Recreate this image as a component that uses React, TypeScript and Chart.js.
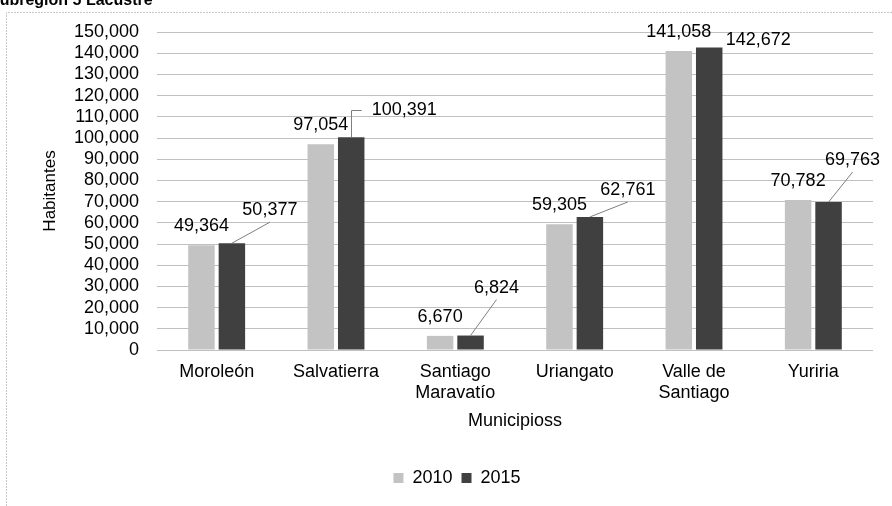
import React, { useEffect, useRef } from 'react';
import { Chart, registerables } from 'chart.js';

Chart.register(...registerables);

const chartTitle = 'Subregión 5 Lacustre';
const categories: (string | string[])[] = [
  'Moroleón',
  'Salvatierra',
  ['Santiago', 'Maravatío'],
  'Uriangato',
  ['Valle de', 'Santiago'],
  'Yuriria',
];
const seriesNames = ['2010', '2015'];
const values2010 = [49364, 97054, 6670, 59305, 141058, 70782];
const values2015 = [50377, 100391, 6824, 62761, 142672, 69763];
const yMin = 0;
const yMax = 150000;
const yStep = 10000;
const yTitle = 'Habitantes';
const xTitle = 'Municipioss';

// label placement for the 2015 series (dx, dy from bar top, leader style)
const labelPlacement2015: [number, number, string][] = [
  [38, -33, 'line'],
  [53, -27, 'elbow'],
  [26, -48, 'line'],
  [38, -27, 'line'],
  [49, -8, 'none'],
  [24, -42, 'line'],
];

const FONT = '"Liberation Sans", Arial, sans-serif';
const fmt = (v: number) => v.toLocaleString('en-US');

const decorPlugin = {
  id: 'decor',
  beforeDraw(chart: any) {
    const ctx = chart.ctx;
    ctx.save();
    ctx.fillStyle = '#ffffff';
    ctx.fillRect(0, 0, chart.width, chart.height);
    ctx.strokeStyle = '#c8c8c8';
    ctx.lineWidth = 1;
    ctx.setLineDash([2, 1]);
    ctx.beginPath();
    ctx.moveTo(6.5, chart.height);
    ctx.lineTo(6.5, 12.5);
    ctx.lineTo(chart.width, 12.5);
    ctx.stroke();
    ctx.setLineDash([]);
    ctx.fillStyle = '#000000';
    ctx.font = `bold 16px ${FONT}`;
    ctx.textAlign = 'left';
    ctx.textBaseline = 'alphabetic';
    ctx.fillText(chartTitle, -11, 5);
    ctx.restore();
  },
};

const labelsPlugin = {
  id: 'valueLabels',
  afterDatasetsDraw(chart: any) {
    const ctx = chart.ctx;
    ctx.save();
    ctx.font = `18px ${FONT}`;
    ctx.textAlign = 'center';
    ctx.textBaseline = 'middle';
    ctx.fillStyle = '#000000';
    const m0 = chart.getDatasetMeta(0);
    const m1 = chart.getDatasetMeta(1);
    m0.data.forEach((bar: any, i: number) => {
      ctx.fillText(fmt(values2010[i]), bar.x, bar.y - 19);
    });
    m1.data.forEach((bar: any, i: number) => {
      const [dx, dy, kind] = labelPlacement2015[i];
      const cx = bar.x + dx;
      const cy = bar.y + dy;
      const text = fmt(values2015[i]);
      const w = ctx.measureText(text).width;
      ctx.strokeStyle = '#7f7f7f';
      ctx.lineWidth = 1;
      if (kind === 'line') {
        ctx.beginPath();
        ctx.moveTo(bar.x, bar.y);
        ctx.lineTo(cx, cy + 12);
        ctx.stroke();
      } else if (kind === 'elbow') {
        ctx.beginPath();
        ctx.moveTo(Math.round(bar.x) + 0.5, bar.y);
        ctx.lineTo(Math.round(bar.x) + 0.5, Math.round(cy) + 0.5);
        ctx.lineTo(cx - w / 2 - 10, Math.round(cy) + 0.5);
        ctx.stroke();
      }
      ctx.fillText(text, cx, cy);
    });
    ctx.restore();
  },
};

export default function App() {
  const canvasRef = useRef<HTMLCanvasElement | null>(null);

  useEffect(() => {
    if (!canvasRef.current) return;
    const chart = new Chart(canvasRef.current, {
      type: 'bar',
      data: {
        labels: categories as any,
        datasets: [
          {
            label: seriesNames[0],
            data: values2010,
            backgroundColor: '#c3c3c3',
            borderWidth: 0,
            categoryPercentage: 0.51,
            barPercentage: 0.87,
          },
          {
            label: seriesNames[1],
            data: values2015,
            backgroundColor: '#404040',
            borderWidth: 0,
            categoryPercentage: 0.51,
            barPercentage: 0.87,
          },
        ],
      },
      options: {
        responsive: false,
        animation: false,
        devicePixelRatio: 1,
        layout: { padding: { left: 41, right: 19, top: 32, bottom: 9 } },
        plugins: {
          legend: {
            position: 'bottom',
            labels: {
              boxWidth: 10,
              boxHeight: 10,
              padding: 9,
              color: '#000000',
              font: { family: FONT, size: 18 },
            },
          },
          tooltip: { enabled: false },
          title: { display: false },
        },
        scales: {
          x: {
            grid: { display: false, drawTicks: false },
            border: { display: false },
            ticks: {
              color: '#000000',
              font: { family: FONT, size: 18 },
              padding: 11,
              maxRotation: 0,
              autoSkip: false,
            },
            title: {
              display: true,
              text: xTitle,
              color: '#000000',
              font: { family: FONT, size: 18 },
              padding: { top: 0, bottom: 28 },
            },
            afterFit: (scale: any) => {
              scale.height = 110;
            },
          },
          y: {
            min: yMin,
            max: yMax,
            grid: {
              color: '#c0c0c0',
              drawTicks: false,
              lineWidth: 1,
            },
            border: { display: false },
            ticks: {
              stepSize: yStep,
              autoSkip: false,
              color: '#000000',
              font: { family: FONT, size: 18 },
              padding: 18,
              callback: (v: any) => fmt(Number(v)),
            },
            title: {
              display: true,
              text: yTitle,
              color: '#000000',
              font: { family: FONT, size: 17 },
              padding: { top: -1, bottom: 0 },
            },
            afterFit: (scale: any) => {
              scale.width = 116;
            },
          },
        },
      } as any,
      plugins: [decorPlugin, labelsPlugin],
    });
    return () => chart.destroy();
  }, []);

  return (
    <div style={{ position: 'absolute', left: 0, top: 0, width: 892, height: 506 }}>
      <canvas ref={canvasRef} width={892} height={506} style={{ display: 'block', width: 892, height: 506 }} />
    </div>
  );
}
